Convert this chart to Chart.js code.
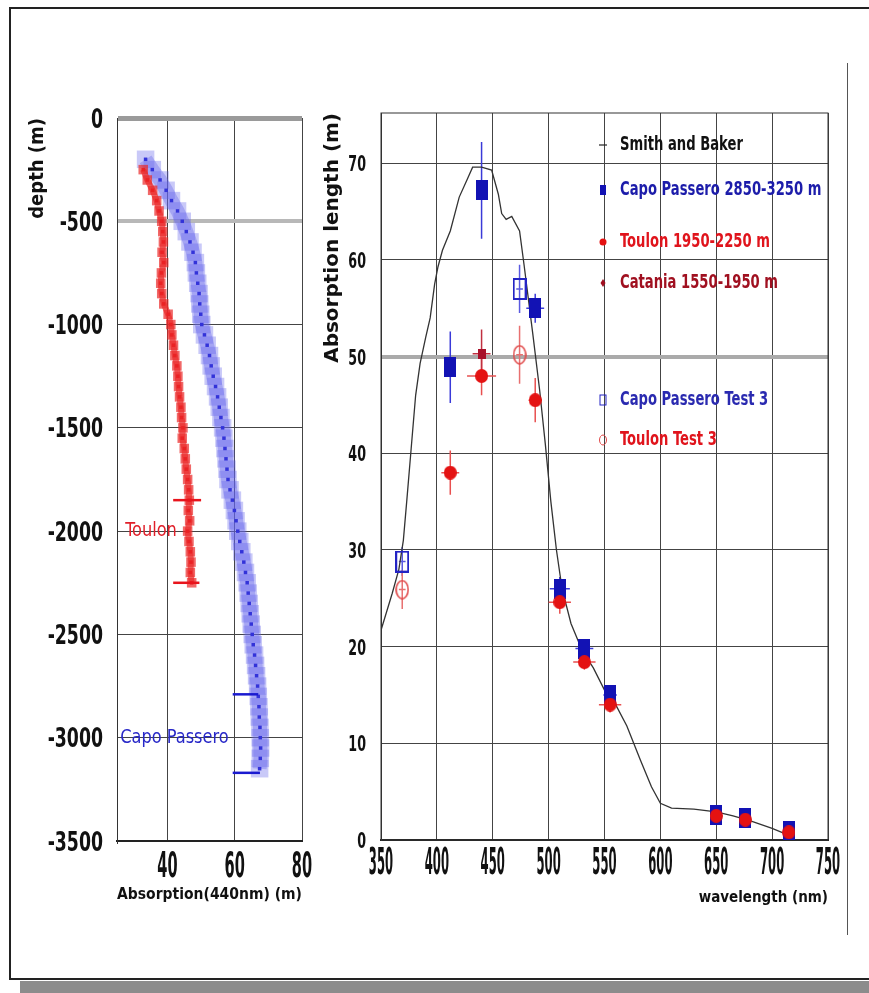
<!DOCTYPE html>
<html>
<head>
<meta charset="utf-8">
<script src="https://cdn.jsdelivr.net/npm/chart.js@4.4.1/dist/chart.umd.min.js"></script>
<style>
    body { margin: 0; background: #fff; width: 869px; height: 993px; overflow: hidden; position: relative; }
    #frame { position: absolute; left: 9px; top: 7px; width: 900px; height: 973px; border: 2px solid #222; box-sizing: border-box; }
    #shadow { position: absolute; left: 20px; top: 981px; width: 849px; height: 12px; background: #8c8c8c; }
    #vline { position: absolute; left: 847px; top: 63px; width: 1px; height: 872px; background: #555; }
    canvas { position: absolute; top: 0; }
    #depthChart { left: 0; }
    #specChart { left: 320px; }
</style>
</head>
<body>
<div id="frame"></div>
<div id="shadow"></div>
<div id="vline"></div>
<canvas id="depthChart" width="320" height="993"></canvas>
<canvas id="specChart" width="549" height="993"></canvas>

<script>
// ---- left panel: absorption length vs depth ----
const toulonDepth = [-250, -300, -350, -400, -450, -500, -550, -600, -650, -700, -750, -800, -850, -900, -950,
    -1000, -1050, -1100, -1150, -1200, -1250, -1300, -1350, -1400, -1450, -1500, -1550, -1600, -1650, -1700,
    -1750, -1800, -1850, -1900, -1950, -2000, -2050, -2100, -2150, -2200, -2250];
const toulonAbs = [32.8, 34.0, 35.6, 36.8, 37.5, 38.3, 38.6, 38.8, 38.4, 38.9, 38.2, 38.0, 38.3, 38.9, 40.2,
    41.0, 41.3, 41.8, 42.2, 42.8, 43.1, 43.3, 43.6, 44.0, 44.2, 44.6, 44.4, 45.0, 45.3, 45.6,
    46.0, 46.3, 46.5, 46.2, 46.6, 46.0, 46.4, 46.8, 47.0, 46.8, 47.2];

const capoDepth = [-200, -250, -300, -350, -400, -450, -500, -550, -600, -650, -700, -750, -800, -850, -900,
    -950, -1000, -1050, -1100, -1150, -1200, -1250, -1300, -1350, -1400, -1450, -1500, -1550, -1600, -1650,
    -1700, -1750, -1800, -1850, -1900, -1950, -2000, -2050, -2100, -2150, -2200, -2250, -2300, -2350, -2400,
    -2450, -2500, -2550, -2600, -2650, -2700, -2750, -2800, -2850, -2900, -2950, -3000, -3050, -3100, -3150];
const capoAbs = [33.5, 35.5, 37.8, 39.6, 41.2, 43.0, 44.4, 45.6, 46.7, 47.6, 48.3, 48.6, 49.0, 49.4, 49.6,
    49.9, 50.2, 51.0, 51.8, 52.5, 53.0, 53.6, 54.3, 54.9, 55.4, 55.9, 56.4, 56.8, 57.1, 57.4,
    57.7, 58.0, 58.6, 59.3, 59.9, 60.4, 60.9, 61.5, 62.1, 62.7, 63.2, 63.7, 64.0, 64.3, 64.6,
    64.9, 65.2, 65.5, 65.9, 66.2, 66.5, 66.8, 67.0, 67.2, 67.3, 67.5, 67.6, 67.7, 67.6, 67.4];

// horizontal bars on the profiles
const toulonBarDepth = [-1850, -2250];
const toulonBarLo = [41.7, 41.7];
const toulonBarHi = [50.0, 49.5];
const capoBarDepth = [-2790, -3170];
const capoBarLo = [59.4, 59.4];
const capoBarHi = [67.0, 67.5];

const depthTicks = [0, -500, -1000, -1500, -2000, -2500, -3000, -3500];
const depthAbsTicks = [40, 60, 80];

// ---- right panel: absorption length vs wavelength ----
const smithWl = [350, 360, 366, 370, 373, 377, 381, 385, 390, 394, 398, 401, 405, 412, 420, 427, 432, 440, 449, 455,
    458, 462, 467, 474, 478, 486, 492, 497, 502, 507, 512, 520, 530, 540, 550, 560, 570, 582, 592, 600,
    610, 630, 650, 665, 680, 700, 719];
const smithAbs = [21.7, 25.5, 28, 31, 35, 40.5, 46, 49.3, 52, 54, 57.5, 59.3, 61, 63, 66.5, 68.3, 69.6, 69.6, 69.3, 66.8,
    64.8, 64.2, 64.5, 63, 59.5, 52.2, 46.5, 41, 35, 30, 26, 22.4, 19.6, 17.8, 15.5, 14, 11.8, 8.3, 5.5, 3.8,
    3.3, 3.2, 2.9, 2.5, 2.0, 1.2, 0.3];

const capoWl = [412, 440, 488, 510, 532, 555, 650, 676, 715];
const capoLen = [48.9, 67.2, 55.0, 26.0, 19.8, 15.0, 2.6, 2.3, 0.9];
const capoErrY = [3.7, 5.0, 1.5, 1.2, 1.0, 1.0, 0.8, 0.8, 0.5];
const capoErrX = [5, 5, 8, 9, 8, 6, 5, 5, 5];

const toulonWl = [412, 440, 488, 510, 532, 555, 650, 676, 715];
const toulonLen = [38.0, 48.0, 45.5, 24.6, 18.4, 14.0, 2.5, 2.1, 0.8];
const toulonErrY = [2.3, 2.0, 2.3, 1.2, 0.8, 0.8, 0.5, 0.5, 0.5];
const toulonErrX = [8, 13, 6, 10, 10, 10, 5, 5, 5];

const cataniaWl = [440];
const cataniaLen = [50.3];
const cataniaErrY = [2.5];
const cataniaErrX = [8];

const capoTestWl = [369, 474];
const capoTestLen = [28.8, 57.0];
const capoTestErrY = [1.5, 2.5];
const capoTestErrX = [3, 3];

const toulonTestWl = [369, 474];
const toulonTestLen = [25.9, 50.2];
const toulonTestErrY = [2.0, 3.0];
const toulonTestErrX = [3, 3];

const wlTicks = [350, 400, 450, 500, 550, 600, 650, 700, 750];
const lenTicks = [0, 10, 20, 30, 40, 50, 60, 70];

const specLabels = ['Smith and Baker', 'Capo Passero 2850-3250 m', 'Toulon 1950-2250 m',
    'Catania 1550-1950 m', 'Capo Passero Test 3', 'Toulon Test 3'];

const COND = "'DejaVu Sans Condensed', 'DejaVu Sans', sans-serif";

function pts(xs, ys) {
    return xs.map((v, i) => ({ x: v, y: ys[i] }));
}

// text squeezed horizontally, like the tall narrow lettering of the original
function sText(ctx, text, x, y, sx, align) {
    ctx.save();
    ctx.translate(x, y);
    ctx.scale(sx, 1);
    ctx.textAlign = align;
    ctx.fillText(text, 0, 0);
    ctx.restore();
}

// marker images
function marker(w, h, draw) {
    const c = document.createElement('canvas');
    c.width = w;
    c.height = h;
    draw(c.getContext('2d'), w, h);
    return c;
}
const blueSq = marker(12, 20, (g, w, h) => { g.fillStyle = '#1212b4'; g.fillRect(0, 0, w, h); });
const blueOpen = marker(14, 22, (g, w, h) => { g.strokeStyle = '#2424c4'; g.lineWidth = 2; g.strokeRect(1, 1, w - 2, h - 2); });
const redDot = marker(13, 14, (g, w, h) => {
    g.fillStyle = '#e41212';
    g.beginPath(); g.ellipse(w / 2, h / 2, w / 2, h / 2, 0, 0, Math.PI * 2); g.fill();
});
const redOpen = marker(14, 20, (g, w, h) => {
    g.strokeStyle = '#e04848'; g.lineWidth = 1.6;
    g.beginPath(); g.ellipse(w / 2, h / 2, w / 2 - 1, h / 2 - 1, 0, 0, Math.PI * 2); g.stroke();
});
const cataniaMk = marker(8, 10, (g, w, h) => { g.fillStyle = '#a8102a'; g.fillRect(0, 0, w, h); });

const leftChart = new Chart(document.getElementById('depthChart'), {
    type: 'scatter',
    data: {
        datasets: [
            {
                data: pts(toulonAbs, toulonDepth),
                showLine: true,
                borderColor: 'rgba(235, 40, 40, 0.7)',
                borderWidth: 6,
                pointStyle: 'rect',
                pointRadius: 2.5,
                backgroundColor: '#e8141c',
                borderJoinStyle: 'round'
            },
            {
                data: pts(capoAbs, capoDepth),
                showLine: true,
                borderColor: 'rgba(100, 100, 235, 0.35)',
                borderWidth: 14,
                pointStyle: 'rect',
                pointRadius: 2.5,
                backgroundColor: '#1a1ad0',
                borderJoinStyle: 'round'
            }
        ]
    },
    options: {
        responsive: false,
        animation: false,
        layout: { padding: { left: 0, right: 18, top: 118, bottom: 82 } },
        plugins: { legend: { display: false }, tooltip: { enabled: false } },
        elements: { point: { borderWidth: 0 } },
        scales: {
            x: {
                type: 'linear', min: 25, max: 80,
                afterBuildTicks: s => { s.ticks = depthAbsTicks.map(v => ({ value: v })); },
                afterFit: s => { s.height = 70; },
                ticks: { display: false },
                grid: { color: '#444', lineWidth: 1, drawTicks: false },
                border: { color: '#222', width: 2 },
                title: {
                    display: true, text: 'Absorption(440nm) (m)', color: '#111',
                    font: { family: COND, size: 16, weight: 'bold' }, padding: { top: 0, bottom: 7 }
                }
            },
            y: {
                type: 'linear', min: -3500, max: 0,
                afterBuildTicks: s => { s.ticks = depthTicks.map(v => ({ value: v })); },
                afterFit: s => { s.width = 117; },
                ticks: { display: false },
                grid: {
                    drawTicks: false,
                    color: c => c.tick.value === 0 ? '#9a9a9a' : (c.tick.value === -500 ? '#b8b8b8' : '#444'),
                    lineWidth: c => c.tick.value === 0 ? 5 : (c.tick.value === -500 ? 4 : 1)
                },
                border: { color: '#333', width: 1 },
                title: {
                    display: true, text: 'depth (m)', color: '#111', align: 'end',
                    font: { family: COND, size: 20, weight: 'bold' }, padding: { top: 26, bottom: 0 }
                }
            }
        }
    },
    plugins: [{
        id: 'depthExtras',
        afterDatasetsDraw(chart) {
            const { ctx, scales: { x, y } } = chart;
            ctx.save();
            ctx.lineWidth = 2.5;
            ctx.strokeStyle = '#e8141c';
            toulonBarDepth.forEach((d, i) => {
                ctx.beginPath();
                ctx.moveTo(x.getPixelForValue(toulonBarLo[i]), y.getPixelForValue(d));
                ctx.lineTo(x.getPixelForValue(toulonBarHi[i]), y.getPixelForValue(d));
                ctx.stroke();
            });
            ctx.strokeStyle = '#1a1ad0';
            capoBarDepth.forEach((d, i) => {
                ctx.beginPath();
                ctx.moveTo(x.getPixelForValue(capoBarLo[i]), y.getPixelForValue(d));
                ctx.lineTo(x.getPixelForValue(capoBarHi[i]), y.getPixelForValue(d));
                ctx.stroke();
            });
            // profile names
            ctx.font = '20px ' + COND;
            ctx.textBaseline = 'middle';
            ctx.fillStyle = '#e0202a';
            sText(ctx, 'Toulon', x.getPixelForValue(42.8), y.getPixelForValue(-2000), 0.9, 'right');
            ctx.fillStyle = '#2828c8';
            sText(ctx, 'Capo Passero', x.getPixelForValue(58.2), y.getPixelForValue(-3000), 0.9, 'right');
            ctx.restore();
        },
        afterDraw(chart) {
            const { ctx, scales: { x, y } } = chart;
            ctx.save();
            ctx.fillStyle = '#111';
            ctx.textBaseline = 'alphabetic';
            ctx.font = 'bold 26px ' + COND;
            depthTicks.forEach(v => sText(ctx, String(v), 103, y.getPixelForValue(v) + 9.5, 0.74, 'right'));
            ctx.font = 'bold 36px ' + COND;
            depthAbsTicks.forEach(v => sText(ctx, String(v), x.getPixelForValue(v), 877, 0.45, 'center'));
            ctx.restore();
        }
    }]
});

// error bars, frame, legend and tick labels for the wavelength panel
const specExtras = {
    id: 'specExtras',
    beforeDatasetsDraw(chart) {
        const { ctx, scales: { x, y } } = chart;
        ctx.save();
        chart.data.datasets.forEach(ds => {
            if (!ds.errY) return;
            ctx.strokeStyle = ds.errColor;
            ctx.lineWidth = 1.5;
            ds.data.forEach((p, i) => {
                const px = x.getPixelForValue(p.x), py = y.getPixelForValue(p.y);
                ctx.beginPath();
                ctx.moveTo(px, y.getPixelForValue(p.y + ds.errY[i]));
                ctx.lineTo(px, y.getPixelForValue(p.y - ds.errY[i]));
                ctx.moveTo(x.getPixelForValue(p.x - ds.errX[i]), py);
                ctx.lineTo(x.getPixelForValue(p.x + ds.errX[i]), py);
                ctx.stroke();
            });
        });
        const a = chart.chartArea;
        ctx.strokeStyle = '#333';
        ctx.lineWidth = 1;
        ctx.strokeRect(a.left, a.top, a.right - a.left, a.bottom - a.top);
        ctx.restore();
    },
    afterDraw(chart) {
        const { ctx, scales: { x, y } } = chart;
        const rowY = [145, 190, 242, 283, 400, 440];
        const colors = ['#111', '#1c1caa', '#e0141c', '#a01020', '#2a2ab0', '#e0141c'];
        const mx = 283, tx = 300;
        ctx.save();
        // legend markers
        ctx.strokeStyle = '#222'; ctx.lineWidth = 1.2;
        ctx.beginPath(); ctx.moveTo(mx - 4, rowY[0]); ctx.lineTo(mx + 4, rowY[0]); ctx.stroke();
        ctx.fillStyle = '#1212b4'; ctx.fillRect(mx - 3, rowY[1] - 5, 6, 10);
        ctx.fillStyle = '#e41212';
        ctx.beginPath(); ctx.arc(mx, rowY[2], 3.5, 0, Math.PI * 2); ctx.fill();
        ctx.fillStyle = '#a01020';
        ctx.beginPath(); ctx.moveTo(mx, rowY[3] - 4); ctx.lineTo(mx + 2.5, rowY[3]); ctx.lineTo(mx, rowY[3] + 4); ctx.lineTo(mx - 2.5, rowY[3]); ctx.closePath(); ctx.fill();
        ctx.strokeStyle = '#2424c4'; ctx.lineWidth = 1;
        ctx.strokeRect(mx - 3, rowY[4] - 5, 6, 10);
        ctx.strokeStyle = '#e04848';
        ctx.beginPath(); ctx.ellipse(mx, rowY[5], 3.5, 5, 0, 0, Math.PI * 2); ctx.stroke();
        // legend text
        ctx.font = 'bold 19px ' + COND;
        ctx.textBaseline = 'middle';
        specLabels.forEach((t, i) => {
            ctx.fillStyle = colors[i];
            sText(ctx, t, tx, rowY[i], 0.77, 'left');
        });
        // tick labels
        ctx.fillStyle = '#111';
        ctx.textBaseline = 'alphabetic';
        ctx.font = 'bold 22px ' + COND;
        lenTicks.forEach(v => sText(ctx, String(v), 46, y.getPixelForValue(v) + 8, 0.64, 'right'));
        ctx.font = 'bold 38px ' + COND;
        wlTicks.forEach(v => sText(ctx, String(v), x.getPixelForValue(v), 874, 0.34, 'center'));
        ctx.restore();
    }
};

const rightChart = new Chart(document.getElementById('specChart'), {
    type: 'scatter',
    data: {
        datasets: [
            {
                label: specLabels[0],
                data: pts(smithWl, smithAbs),
                showLine: true,
                borderColor: '#333',
                borderWidth: 1.3,
                pointRadius: 0,
                order: 10
            },
            {
                label: specLabels[1],
                data: pts(capoWl, capoLen),
                pointStyle: blueSq,
                errY: capoErrY, errX: capoErrX, errColor: '#3a3ad8',
                order: 5
            },
            {
                label: specLabels[2],
                data: pts(toulonWl, toulonLen),
                pointStyle: redDot,
                errY: toulonErrY, errX: toulonErrX, errColor: '#e85050',
                order: 4
            },
            {
                label: specLabels[3],
                data: pts(cataniaWl, cataniaLen),
                pointStyle: cataniaMk,
                errY: cataniaErrY, errX: cataniaErrX, errColor: '#c03040',
                order: 3
            },
            {
                label: specLabels[4],
                data: pts(capoTestWl, capoTestLen),
                pointStyle: blueOpen,
                errY: capoTestErrY, errX: capoTestErrX, errColor: '#5a5ae0',
                order: 2
            },
            {
                label: specLabels[5],
                data: pts(toulonTestWl, toulonTestLen),
                pointStyle: redOpen,
                errY: toulonTestErrY, errX: toulonTestErrX, errColor: '#e87070',
                order: 1
            }
        ]
    },
    options: {
        responsive: false,
        animation: false,
        layout: { padding: { left: 0, right: 41, top: 113, bottom: 83 } },
        plugins: { legend: { display: false }, tooltip: { enabled: false } },
        scales: {
            x: {
                type: 'linear', min: 350, max: 750,
                afterBuildTicks: s => { s.ticks = wlTicks.map(v => ({ value: v })); },
                afterFit: s => { s.height = 70; },
                ticks: { display: false },
                grid: { color: '#444', lineWidth: 1, drawTicks: false },
                border: { color: '#222', width: 2 },
                title: {
                    display: true, text: 'wavelength (nm)', color: '#111', align: 'end',
                    font: { family: COND, size: 15, weight: 'bold' }, padding: { top: 0, bottom: 3 }
                }
            },
            y: {
                type: 'linear', min: 0, max: 75.2,
                afterBuildTicks: s => { s.ticks = lenTicks.map(v => ({ value: v })); },
                afterFit: s => { s.width = 61; },
                ticks: { display: false },
                grid: {
                    drawTicks: false,
                    color: c => c.tick.value === 50 ? '#aaaaaa' : '#444',
                    lineWidth: c => c.tick.value === 50 ? 4 : 1
                },
                border: { color: '#333', width: 1 },
                title: {
                    display: true, text: 'Absorption length (m)', color: '#111', align: 'end',
                    font: { family: "'DejaVu Sans', sans-serif", size: 20, weight: 'bold' }, padding: { top: 1, bottom: 0 }
                }
            }
        }
    },
    plugins: [specExtras]
});
</script>
</body>
</html>
